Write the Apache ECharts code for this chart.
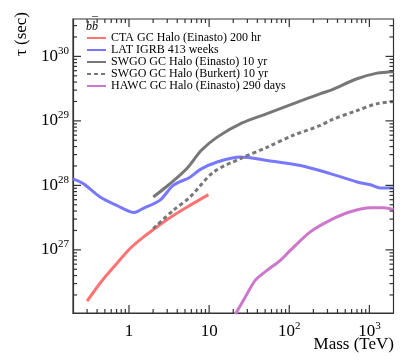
<!DOCTYPE html>
<html>
<head>
<meta charset="utf-8">
<script src="https://cdn.jsdelivr.net/npm/echarts@6/dist/echarts.min.js"></script>
<style>
  html, body { margin: 0; padding: 0; background: #fff; }
  #chart { width: 407px; height: 361px; }
</style>
</head>
<body>
<div id="chart"></div>
<script>
// data (mass in TeV, lifetime in sec)
const seriesNames = ['CTA GC Halo (Einasto) 200 hr', 'LAT IGRB 413 weeks', 'SWGO GC Halo (Einasto) 10 yr',
  'SWGO GC Halo (Burkert) 10 yr', 'HAWC GC Halo (Einasto) 290 days'];

const ctaMass = [0.30, 0.45, 0.70, 1.03, 1.51, 2.21, 3.57, 5.77, 9.8];
const ctaTau = [1.6e26, 3.2e26, 6.1e26, 1.05e27, 1.58e27, 2.25e27, 3.4e27, 4.9e27, 7.2e27];

const latMass = [0.2, 0.27, 0.435, 0.70, 1.16, 1.51, 2.44, 3.57, 5.77, 7.8, 12.6, 24.5, 52.8, 138, 326, 702, 1030, 1370, 2000];
const latTau = [1.26e28, 1.06e28, 6.6e27, 4.9e27, 3.8e27, 4.4e27, 5.9e27, 1.0e28, 1.34e28, 1.77e28, 2.3e28, 2.75e28,
  2.44e28, 2.04e28, 1.52e28, 1.13e28, 1.02e28, 9.1e27, 9.1e27];

const swgoEinMass = [2.01, 3.25, 5.24, 8.0, 12.6, 25.8, 52.8, 113, 245, 326, 702, 1250, 2000];
const swgoEinTau = [6.6e27, 1.06e28, 1.81e28, 3.5e28, 5.6e28, 9.3e28, 1.3e29, 1.85e29, 2.65e29, 2.97e29, 4.5e29, 5.5e29, 5.8e29];

const swgoBurMass = [2.01, 3.57, 5.77, 11.3, 24.5, 52.8, 113, 245, 326, 702, 1250, 2000];
const swgoBurTau = [2.14e27, 4.1e27, 6.6e27, 1.6e28, 2.6e28, 3.9e28, 6.0e28, 8.5e28, 1.02e29, 1.45e29, 1.85e29, 2.0e29];

const hawcMass = [21.2, 28.3, 37.8, 52.8, 77.4, 103, 183, 326, 579, 1030, 1510, 2000];
const hawcTau = [1.0e26, 1.86e26, 3.4e26, 4.8e26, 6.9e26, 9.8e26, 1.9e27, 2.9e27, 3.9e27, 4.5e27, 4.5e27, 4.2e27];

// tick values
const xMajorTicks = [1, 10, 100, 1000];
const xMinorTicks = [0.3, 0.4, 0.5, 0.6, 0.7, 0.8, 0.9, 2, 3, 4, 5, 6, 7, 8, 9,
  20, 30, 40, 50, 60, 70, 80, 90, 200, 300, 400, 500, 600, 700, 800, 900];
const yMajorTicks = [1e27, 1e28, 1e29, 1e30];
const yMinorTicks = [2e26, 3e26, 4e26, 5e26, 6e26, 7e26, 8e26, 9e26,
  2e27, 3e27, 4e27, 5e27, 6e27, 7e27, 8e27, 9e27,
  2e28, 3e28, 4e28, 5e28, 6e28, 7e28, 8e28, 9e28,
  2e29, 3e29, 4e29, 5e29, 6e29, 7e29, 8e29, 9e29,
  2e30, 3e30];

const xMin = 0.2, xMax = 2000;
const yMin = 1.05e26, yMax = 3.8e30;

const font = 'Liberation Serif';
const frame = '#333';

function zip(a, b) {
  return a.map((v, i) => [v, b[i]]);
}

function powLabel(v, isX) {
  let e = Math.round(Math.log10(v));
  if (Math.abs(Math.log10(v) - e) > 1e-6) return '';
  if (isX && e === 0) return '{b|1}';
  if (isX && e === 1) return '{b|10}';
  return '{b|10}{s|' + e + '}';
}

const rich = {
  b: { fontSize: 17, fontFamily: font, color: '#000', lineHeight: 22 },
  s: { fontSize: 11, fontFamily: font, color: '#000', lineHeight: 10, verticalAlign: 'top' }
};

function makeAxis(isX) {
  return {
    type: 'log',
    min: isX ? xMin : yMin,
    max: isX ? xMax : yMax,
    axisLine: { show: true, lineStyle: { color: frame, width: 1.2 } },
    axisTick: { show: false },
    minorTick: { show: false },
    splitLine: { show: false },
    axisLabel: {
      customValues: isX ? xMajorTicks : yMajorTicks,
      margin: isX ? 8 : 4,
      formatter: v => powLabel(v, isX),
      rich: rich
    }
  };
}

// inward tick marks on one side of the frame, drawn as thin rect symbols
// placed by the axes' own scales
function tickSide(side) {
  let isX = side === 'bottom' || side === 'top';
  let major = isX ? xMajorTicks : yMajorTicks;
  let minor = isX ? xMinorTicks : yMinorTicks;
  let items = [];
  function add(v, len) {
    let pos, size, offset;
    if (side === 'bottom') { pos = [v, yMin]; size = [1.2, len]; offset = [0, -len / 2]; }
    if (side === 'top') { pos = [v, yMax]; size = [1.2, len]; offset = [0, len / 2]; }
    if (side === 'left') { pos = [xMin, v]; size = [len, 1.2]; offset = [len / 2, 0]; }
    if (side === 'right') { pos = [xMax, v]; size = [len, 1.2]; offset = [-len / 2, 0]; }
    items.push({ value: pos, symbolSize: size, symbolOffset: offset });
  }
  major.forEach(v => add(v, 8));
  minor.forEach(v => add(v, 4));
  return {
    type: 'scatter',
    silent: true,
    z: 10,
    clip: false,
    symbol: 'rect',
    itemStyle: { color: frame, opacity: 1 },
    data: items
  };
}

const colors = ['#ff7373', '#7878ff', '#777777', '#777777', '#cc77cc'];
const dataSets = [zip(ctaMass, ctaTau), zip(latMass, latTau), zip(swgoEinMass, swgoEinTau),
  zip(swgoBurMass, swgoBurTau), zip(hawcMass, hawcTau)];

let lineSeries = seriesNames.map((name, i) => ({
  name: name,
  type: 'line',
  data: dataSets[i],
  symbol: 'none',
  smooth: 0.3,
  itemStyle: { color: colors[i] },
  lineStyle: { color: colors[i], width: 3, type: i === 3 ? [4, 3] : 'solid' }
}));

let chart = echarts.init(document.getElementById('chart'));
let option = {
  animation: false,
  backgroundColor: '#fff',
  grid: { left: 73, right: 13.5, top: 19, bottom: 48, show: true, borderColor: frame, borderWidth: 1.2 },
  legend: {
    orient: 'vertical',
    left: 86, top: 32,
    itemWidth: 19, itemHeight: 12, itemGap: 0,
    padding: 0,
    data: seriesNames,
    itemStyle: { opacity: 0 },
    textStyle: { fontFamily: font, fontSize: 12, color: '#000', lineHeight: 12 }
  },
  xAxis: makeAxis(true),
  yAxis: makeAxis(false),
  graphic: [
    {
      type: 'text', x: 86, y: 21,
      style: { text: 'bb', font: 'italic 12px "Liberation Serif"', fill: '#000' }
    },
    {
      type: 'text', x: 92, y: 17,
      style: { text: '\u00af', font: '12px "Liberation Serif"', fill: '#000' }
    },
    {
      type: 'text', x: 22, y: 12, rotation: Math.PI / 2,
      style: { text: '\u03c4 (sec)', font: '17px "Liberation Serif"', fill: '#000', align: 'right', verticalAlign: 'middle' }
    },
    {
      type: 'text', x: 394, y: 345,
      style: { text: 'Mass (TeV)', font: '17px "Liberation Serif"', fill: '#000', align: 'right', verticalAlign: 'middle' }
    }
  ],
  series: lineSeries.concat([tickSide('bottom'), tickSide('top'), tickSide('left'), tickSide('right')])
};
chart.setOption(option);
</script>
</body>
</html>
